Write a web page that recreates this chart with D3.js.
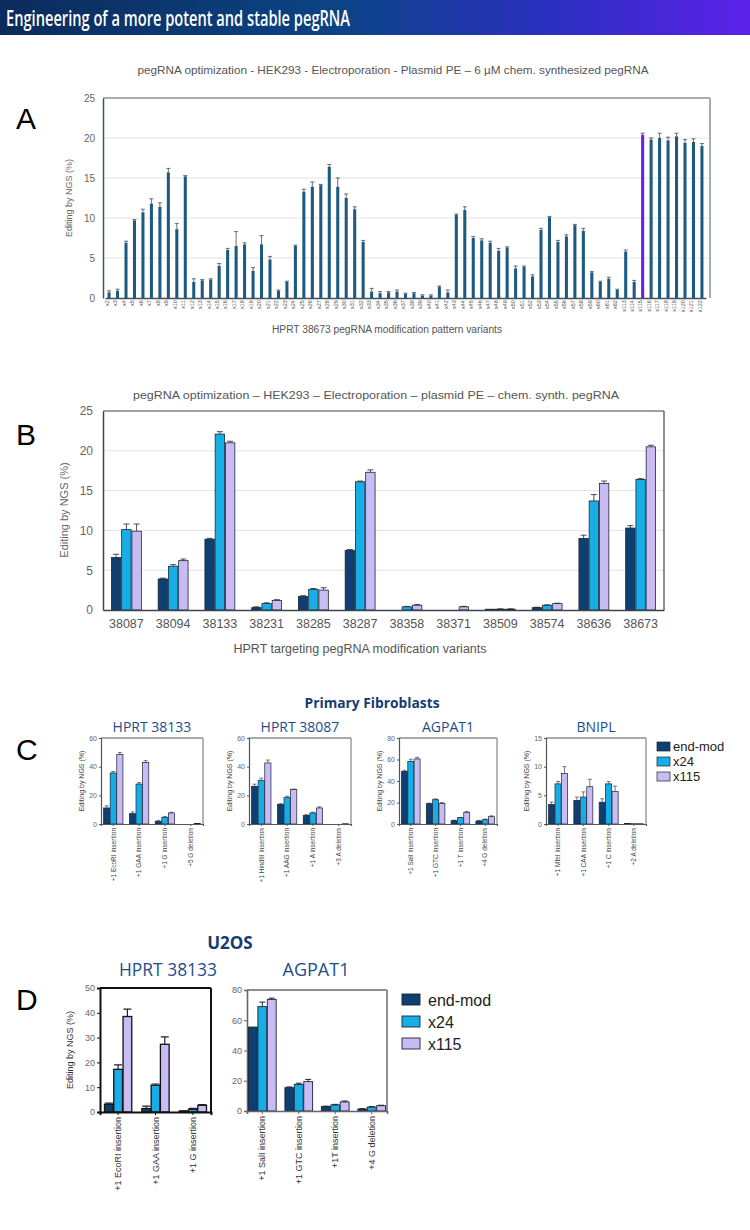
<!DOCTYPE html>
<html>
<head>
<meta charset="utf-8">
<script src="https://cdn.jsdelivr.net/npm/d3@7"></script>
<style>
  body { margin: 0; background: #fff; }
  svg { display: block; font-family: "Liberation Sans", Arial, sans-serif; }
</style>
</head>
<body>
<div id="chart"></div>
<script>

// ---------- data ----------
// panel A : HPRT 38673 modification pattern variants
var aLabels = ['x2','x3','x4','x5','x6','x7','x8','x9','x10','x11',
  'x12','x13','x14','x15','x16','x17','x18','x19','x20','x21',
  'x22','x23','x24','x25','x26','x27','x28','x29','x30','x31',
  'x32','x33','x34','x35','x36','x37','x38','x39','x40','x41',
  'x42','x43','x44','x45','x46','x47','x48','x49','x50','x51',
  'x52','x53','x54','x55','x56','x57','x58','x59','x60','x61',
  'x62','x113','x114','x115','x116','x117','x118','x119','x120','x121','x122'];
var aValues = [0.7,0.9,6.9,9.7,10.7,11.8,11.4,15.7,8.6,15.2,
  2.0,2.2,2.3,4.0,6.0,6.5,6.7,3.4,6.7,4.8,
  0.9,2.0,6.5,13.3,13.9,14.1,16.4,13.9,12.5,11.1,
  7.0,0.8,0.6,0.7,0.8,0.5,0.6,0.3,0.3,1.4,
  0.7,10.4,11.0,7.5,7.2,6.9,5.9,6.3,3.7,3.9,
  2.7,8.5,10.1,7.0,7.7,9.1,8.4,3.2,2.0,2.4,
  1.0,5.8,2.0,20.4,19.8,20.0,19.7,20.2,19.4,19.5,19.0];
var aErrors = [0.2,0.2,0.2,0.1,0.4,0.6,0.5,0.5,0.7,0.1,
  0.4,0.1,0.1,0.3,0.2,1.8,0.2,0.4,1.1,0.4,
  0.1,0.1,0.1,0.3,0.6,0.1,0.3,1.1,0.5,0.3,
  0.2,0.4,0.2,0.1,0.2,0.1,0.1,0.1,0.1,0.1,
  0.3,0.1,0.4,0.2,0.2,0.2,0.3,0.1,0.3,0.1,
  0.2,0.2,0.1,0.2,0.2,0.1,0.3,0.1,0.1,0.2,
  0.1,0.2,0.2,0.2,0.2,0.6,0.4,0.4,0.4,0.4,0.3];
var aHighlight = 'x115';
var aTicks = [0,5,10,15,20,25];

// panel B : HPRT targeting pegRNA variants
var bCats = ['38087','38094','38133','38231','38285','38287','38358','38371','38509','38574','38636','38673'];
var bEndMod = [6.6,3.9,8.9,0.3,1.7,7.5,0,0,0.1,0.3,9.0,10.3];
var bX24    = [10.1,5.5,22.1,0.8,2.6,16.1,0.4,0,0.1,0.6,13.7,16.4];
var bX115   = [9.9,6.2,21.0,1.2,2.5,17.3,0.6,0.4,0.1,0.8,15.9,20.5];
var bErrEndMod = [0.4,0.1,0.1,0.1,0.1,0.1,0,0,0,0.05,0.4,0.3];
var bErrX24    = [0.7,0.2,0.3,0.1,0.1,0.1,0.05,0,0.05,0.05,0.8,0.1];
var bErrX115   = [0.9,0.2,0.2,0.1,0.3,0.3,0.1,0.05,0.05,0.05,0.3,0.2];
var bTicks = [0,5,10,15,20,25];

var seriesNames = ['end-mod','x24','x115'];

// panel C : primary fibroblasts
var c1Cats = ['+1 EcoRI insertion','+1 GAA insertion','+1 G insertion','+5 G deletion'];
var c1EndMod = [11.2,7.2,1.9,0], c1X24 = [35.6,27.9,4.7,0], c1X115 = [48.4,43.0,7.7,0.3];
var c1Err = [[1.5,1.2,0.6,0],[1,1,0.6,0],[1.5,1.2,0.5,0.1]];
var c2Cats = ['+1 HindIII insertion','+1 AAG insertion','+1 A insertion','+3 A deletion'];
var c2EndMod = [26.3,13.7,6.0,0], c2X24 = [30.5,18.4,7.7,0], c2X115 = [42.6,24.0,11.2,0.2];
var c2Err = [[1.5,0.5,0.5,0],[1.5,1,0.5,0],[2,0.4,0.8,0]];
var c3Cats = ['+1 SalI insertion','+1 GTC insertion','+1 T insertion','+4 G deletion'];
var c3EndMod = [49,18.9,3.1,2.8], c3X24 = [58.3,22.6,5.9,4.0], c3X115 = [60.5,19.2,10.9,6.8];
var c3Err = [[1,0.5,0.5,0.5],[2,0.8,0.2,0.5],[1.5,0.8,0.8,0.8]];
var c4Cats = ['+1 MfeI insertion','+1 CAA insertion','+1 C insertion','+2 A deletion'];
var c4EndMod = [3.4,4.1,3.8,0.1], c4X24 = [7.0,4.7,7.0,0.05], c4X115 = [8.8,6.5,5.7,0.05];
var c4Err = [[0.4,0.6,0.6,0],[0.4,0.9,0.4,0],[1.2,1.3,0.9,0]];

// panel D : U2OS
var d1Cats = ['+1 EcoRI insertion','+1 GAA insertion','+1 G insertion'];
var d1EndMod = [3.1,1.4,0.4], d1X24 = [17.2,10.8,1.1], d1X115 = [38.5,27.3,2.7];
var d1Err = [[0.5,1,0.1],[1.8,0.5,0.4],[3,3,0.3]];
var d2Cats = ['+1 SalI insertion','+1 GTC insertion','+1T insertion','+4 G deletion'];
var d2EndMod = [55.5,15.4,2.9,1.3], d2X24 = [69,17.6,4.0,2.6], d2X115 = [73.8,19.4,6.0,3.5];
var d2Err = [[0,0.5,0.3,0.2],[3,0.8,0.4,0.3],[0.8,1.5,0.6,0.3]];

// ---------- style ----------
var colors = ['#0f3f70','#17aee8','#c9bbf3'];
var navyText = '#163a72';
var blueText = '#1f4d8a';
var grayText = '#666';

var svg = d3.select('#chart').append('svg')
  .attr('width', 750)
  .attr('height', 1230);

// header band
var grad = svg.append('defs').append('linearGradient')
  .attr('id', 'hdr').attr('x1', '0%').attr('x2', '100%');
grad.append('stop').attr('offset', '0%').attr('stop-color', '#0b2b5b');
grad.append('stop').attr('offset', '45%').attr('stop-color', '#0b4485');
grad.append('stop').attr('offset', '72%').attr('stop-color', '#2a30bd');
grad.append('stop').attr('offset', '100%').attr('stop-color', '#5b21e8');
svg.append('rect').attr('x', 0).attr('y', 0).attr('width', 750).attr('height', 35)
  .attr('fill', 'url(#hdr)');
svg.append('text').attr('x', 6).attr('y', 26)
  .attr('fill', '#fff')
  .style('font-family', '"Open Sans", sans-serif')
  .style('font-size', '22px')
  .style('font-weight', '600')
  .attr('textLength', 344).attr('lengthAdjust', 'spacingAndGlyphs')
  .text('Engineering of a more potent and stable pegRNA');

// panel letters
[['A',129],['B',445],['C',760],['D',1010]].forEach(function(p) {
  svg.append('text').attr('x', 16).attr('y', p[1])
    .style('font-size', '30px').attr('fill', '#000').text(p[0]);
});

function addText(x, y, txt, size, fill, opts) {
  opts = opts || {};
  var t = svg.append('text').attr('x', x).attr('y', y)
    .attr('text-anchor', opts.anchor || 'middle')
    .style('font-size', size + 'px')
    .attr('fill', fill)
    .text(txt);
  if (opts.bold) t.style('font-weight', 'bold');
  if (opts.family) t.style('font-family', opts.family);
  if (opts.len) t.attr('textLength', opts.len).attr('lengthAdjust', 'spacingAndGlyphs');
  if (opts.rotate) t.attr('transform', 'rotate(-90,' + x + ',' + y + ')');
  return t;
}

// ---------- panel A ----------
(function() {
  var L = 103, R = 710, T = 98, B = 298;
  var y = d3.scaleLinear().domain([0, 25]).range([B, T]);
  var x = d3.scaleBand().domain(aLabels).range([L + 2, R - 4]).paddingInner(0.64).paddingOuter(0.3);
  var g = svg.append('g');

  g.selectAll('.grid').data(aTicks.slice(1, -1)).enter().append('line')
    .attr('x1', L).attr('x2', R).attr('y1', d => y(d)).attr('y2', d => y(d))
    .attr('stroke', '#e3e3e3');
  g.append('line').attr('x1', L).attr('x2', R).attr('y1', T).attr('y2', T).attr('stroke', '#a6adb3').attr('stroke-width', 2);
  g.append('line').attr('x1', R).attr('x2', R).attr('y1', T).attr('y2', B).attr('stroke', '#a6adb3').attr('stroke-width', 2);

  var yAxis = g.append('g').attr('transform', 'translate(' + L + ',0)')
    .call(d3.axisLeft(y).tickValues(aTicks).tickSize(0).tickPadding(8));
  yAxis.select('.domain').attr('stroke', '#44505a').attr('stroke-width', 1.5);
  yAxis.selectAll('text').style('font-size', '10px').attr('fill', grayText);

  var bars = g.selectAll('.bar').data(aValues).enter();
  bars.append('rect')
    .attr('x', (d, i) => x(aLabels[i]))
    .attr('y', d => y(d))
    .attr('width', x.bandwidth())
    .attr('height', d => B - y(d))
    .attr('fill', (d, i) => aLabels[i] === aHighlight ? '#6a1fe6' : '#1c5a80');
  bars.append('line')
    .attr('x1', (d, i) => x(aLabels[i]) + x.bandwidth() / 2)
    .attr('x2', (d, i) => x(aLabels[i]) + x.bandwidth() / 2)
    .attr('y1', d => y(d))
    .attr('y2', (d, i) => y(d + aErrors[i]))
    .attr('stroke', '#333').attr('stroke-width', 0.7);
  bars.append('line')
    .attr('x1', (d, i) => x(aLabels[i]) - 0.5)
    .attr('x2', (d, i) => x(aLabels[i]) + x.bandwidth() + 0.5)
    .attr('y1', (d, i) => y(d + aErrors[i]))
    .attr('y2', (d, i) => y(d + aErrors[i]))
    .attr('stroke', '#333').attr('stroke-width', 0.7);

  var xAxis = g.append('g').attr('transform', 'translate(0,' + B + ')')
    .call(d3.axisBottom(x).tickSize(0).tickPadding(2));
  xAxis.select('.domain').attr('stroke', '#44505a').attr('stroke-width', 1.5);
  xAxis.selectAll('text')
    .style('font-size', '5.5px').attr('fill', '#555')
    .attr('text-anchor', 'end')
    .attr('transform', 'rotate(-90)')
    .attr('dx', '-0.4em').attr('dy', '-0.4em');

  addText(393, 74, 'pegRNA optimization - HEK293 - Electroporation - Plasmid PE \u2013 6 \u00b5M chem. synthesized pegRNA', 10.5, '#555', {len: 511});
  addText(72, 198, 'Editing by NGS (%)', 9, grayText, {rotate: true});
  addText(387, 333, 'HPRT 38673 pegRNA modification pattern variants', 10, '#555', {len: 230});
})();

// ---------- grouped bar helper ----------
function grouped(cfg) {
  var g = svg.append('g');
  var y = d3.scaleLinear().domain([0, cfg.yMax]).range([cfg.B, cfg.T]);
  var x0 = d3.scaleBand().domain(cfg.cats).range([cfg.L, cfg.R])
    .paddingInner(cfg.padIn).paddingOuter(cfg.padOut);
  var x1 = d3.scaleBand().domain([0, 1, 2]).range([0, x0.bandwidth()]).paddingInner(cfg.barGap || 0.08);

  if (cfg.grid) {
    g.selectAll('.grid').data(cfg.ticks.slice(1, -1)).enter().append('line')
      .attr('x1', cfg.L).attr('x2', cfg.R).attr('y1', d => y(d)).attr('y2', d => y(d))
      .attr('stroke', '#e3e3e3');
  }
  // frame
  g.append('line').attr('x1', cfg.L).attr('x2', cfg.R).attr('y1', cfg.T).attr('y2', cfg.T)
    .attr('stroke', cfg.frame).attr('stroke-width', cfg.frameW);
  g.append('line').attr('x1', cfg.R).attr('x2', cfg.R).attr('y1', cfg.T).attr('y2', cfg.B)
    .attr('stroke', cfg.frame).attr('stroke-width', cfg.frameW);

  var yAxis = g.append('g').attr('transform', 'translate(' + cfg.L + ',0)')
    .call(d3.axisLeft(y).tickValues(cfg.ticks).tickSize(cfg.tickSize || 0).tickPadding(cfg.tickPad));
  yAxis.select('.domain').attr('stroke', cfg.axis).attr('stroke-width', cfg.axisW);
  yAxis.selectAll('line').attr('stroke', cfg.axis);
  yAxis.selectAll('text').style('font-size', cfg.tickFont + 'px').attr('fill', cfg.tickFill || grayText);

  cfg.series.forEach(function(vals, s) {
    var errs = cfg.errs[s];
    var sel = g.selectAll('.s' + s).data(vals).enter();
    sel.append('rect')
      .attr('x', (d, i) => x0(cfg.cats[i]) + x1(s))
      .attr('y', d => y(d))
      .attr('width', x1.bandwidth())
      .attr('height', d => cfg.B - y(d))
      .attr('fill', colors[s])
      .attr('stroke', cfg.barStroke).attr('stroke-width', cfg.barStrokeW);
    sel.append('path')
      .attr('d', function(d, i) {
        if (!errs[i]) return null;
        var cx = x0(cfg.cats[i]) + x1(s) + x1.bandwidth() / 2;
        var hw = Math.min(x1.bandwidth() / 2, cfg.capW);
        return 'M' + cx + ',' + y(d) + 'V' + y(d + errs[i]) +
          'M' + (cx - hw) + ',' + y(d + errs[i]) + 'H' + (cx + hw);
      })
      .attr('fill', 'none').attr('stroke', cfg.errStroke || '#222').attr('stroke-width', cfg.errW || 0.8);
  });

  var xAxis = g.append('g').attr('transform', 'translate(0,' + cfg.B + ')')
    .call(d3.axisBottom(x0).tickSize(cfg.xTick || 0).tickPadding(cfg.xPad));
  xAxis.select('.domain').attr('stroke', cfg.axis).attr('stroke-width', cfg.axisW);
  xAxis.selectAll('line').attr('stroke', cfg.axis);
  var lab = xAxis.selectAll('text').style('font-size', cfg.xFont + 'px').attr('fill', cfg.xFill || grayText);
  if (cfg.rotate) {
    lab.attr('text-anchor', 'end').attr('transform', 'rotate(-90)')
      .attr('dx', '-' + cfg.xPad + 'px')
      .attr('y', 0).attr('x', 0)
      .attr('dy', '0.35em');
  }
  return g;
}

// ---------- panel B ----------
grouped({
  L: 103, R: 664, T: 411, B: 610, yMax: 25, ticks: bTicks, grid: true,
  cats: bCats, series: [bEndMod, bX24, bX115], errs: [bErrEndMod, bErrX24, bErrX115],
  padIn: 0.36, padOut: 0.18, barGap: 0.08,
  frame: '#3d454c', frameW: 1.2, axis: '#3d454c', axisW: 1.5,
  tickPad: 10, tickFont: 12, xPad: 9, xFont: 12.5, xFill: '#555',
  barStroke: '#1a2a3a', barStrokeW: 0.8, capW: 3
});
addText(376, 399, 'pegRNA optimization \u2013 HEK293 \u2013 Electroporation \u2013 plasmid PE \u2013 chem. synth. pegRNA', 11, '#555', {len: 486});
addText(68, 510, 'Editing by NGS (%)', 11, grayText, {rotate: true});
addText(360, 653, 'HPRT targeting pegRNA modification variants', 12, '#555', {len: 253});

// ---------- panel C ----------
addText(372, 708, 'Primary Fibroblasts', 14.5, navyText, {bold: true, family: '"Open Sans", sans-serif', len: 135});

var cPanels = [
  {L: 101, R: 203, title: 'HPRT 38133', cats: c1Cats, s: [c1EndMod, c1X24, c1X115], e: c1Err, yMax: 60, ticks: [0,20,40,60]},
  {L: 249, R: 351, title: 'HPRT 38087', cats: c2Cats, s: [c2EndMod, c2X24, c2X115], e: c2Err, yMax: 60, ticks: [0,20,40,60]},
  {L: 399, R: 497, title: 'AGPAT1', cats: c3Cats, s: [c3EndMod, c3X24, c3X115], e: c3Err, yMax: 80, ticks: [0,20,40,60,80]},
  {L: 546, R: 646, title: 'BNIPL', cats: c4Cats, s: [c4EndMod, c4X24, c4X115], e: c4Err, yMax: 15, ticks: [0,5,10,15]}
];
cPanels.forEach(function(p) {
  grouped({
    L: p.L, R: p.R, T: 738, B: 824, yMax: p.yMax, ticks: p.ticks,
    cats: p.cats, series: p.s, errs: p.e,
    padIn: 0.25, padOut: 0.1, barGap: 0.06,
    frame: '#8a8f94', frameW: 1.3, axis: '#555', axisW: 1.2, tickSize: 2,
    tickPad: 2, tickFont: 7, xPad: 4, xFont: 6.5, rotate: true, xFill: '#444', xTick: 2,
    barStroke: '#1a2233', barStrokeW: 0.7, capW: 2, errW: 0.6
  });
  addText((p.L + p.R) / 2, 732, p.title, 14, blueText, {family: '"Open Sans", sans-serif'});
  addText(p.L - 17, 781, 'Editing by NGS (%)', 7, '#444', {rotate: true});
});

// legend C
seriesNames.forEach(function(n, i) {
  svg.append('rect').attr('x', 657).attr('y', 742 + i * 15).attr('width', 13).attr('height', 9)
    .attr('fill', colors[i]).attr('stroke', '#1a2233').attr('stroke-width', 0.7);
  addText(673, 751 + i * 15, n, 13, '#222', {anchor: 'start'});
});

// ---------- panel D ----------
addText(230, 949, 'U2OS', 17, navyText, {bold: true, family: '"Open Sans", sans-serif'});
addText(168, 976, 'HPRT 38133', 18, blueText, {family: '"Open Sans", sans-serif', len: 98});
addText(316, 976, 'AGPAT1', 18, blueText, {family: '"Open Sans", sans-serif'});

grouped({
  L: 100, R: 211, T: 988, B: 1112, yMax: 50, ticks: [0,10,20,30,40,50],
  cats: d1Cats, series: [d1EndMod, d1X24, d1X115], errs: d1Err,
  padIn: 0.27, padOut: 0.12, barGap: 0.06,
  frame: '#111', frameW: 2, axis: '#111', axisW: 2, tickSize: 3,
  tickPad: 2, tickFont: 9, xPad: 5, xFont: 9, rotate: true, xFill: '#333', xTick: 3,
  barStroke: '#111', barStrokeW: 1.3, capW: 4, errW: 1.2
});
grouped({
  L: 247, R: 387, T: 990, B: 1111, yMax: 80, ticks: [0,20,40,60,80],
  cats: d2Cats, series: [d2EndMod, d2X24, d2X115], errs: d2Err,
  padIn: 0.24, padOut: 0.04, barGap: 0.06,
  frame: '#8a8f94', frameW: 2, axis: '#666', axisW: 1.6, tickSize: 3,
  tickPad: 2, tickFont: 9, xPad: 5, xFont: 9, rotate: true, xFill: '#333', xTick: 3,
  barStroke: '#1a2233', barStrokeW: 0.9, capW: 3, errW: 1
});
addText(73, 1050, 'Editing by NGS (%)', 9, '#333', {rotate: true});

// legend D
seriesNames.forEach(function(n, i) {
  svg.append('rect').attr('x', 402).attr('y', 994 + i * 22).attr('width', 18).attr('height', 11)
    .attr('fill', colors[i]).attr('stroke', '#1a2233').attr('stroke-width', 0.9);
  addText(428, 1006 + i * 22, n, 16, '#222', {anchor: 'start'});
});

</script>
</body>
</html>
